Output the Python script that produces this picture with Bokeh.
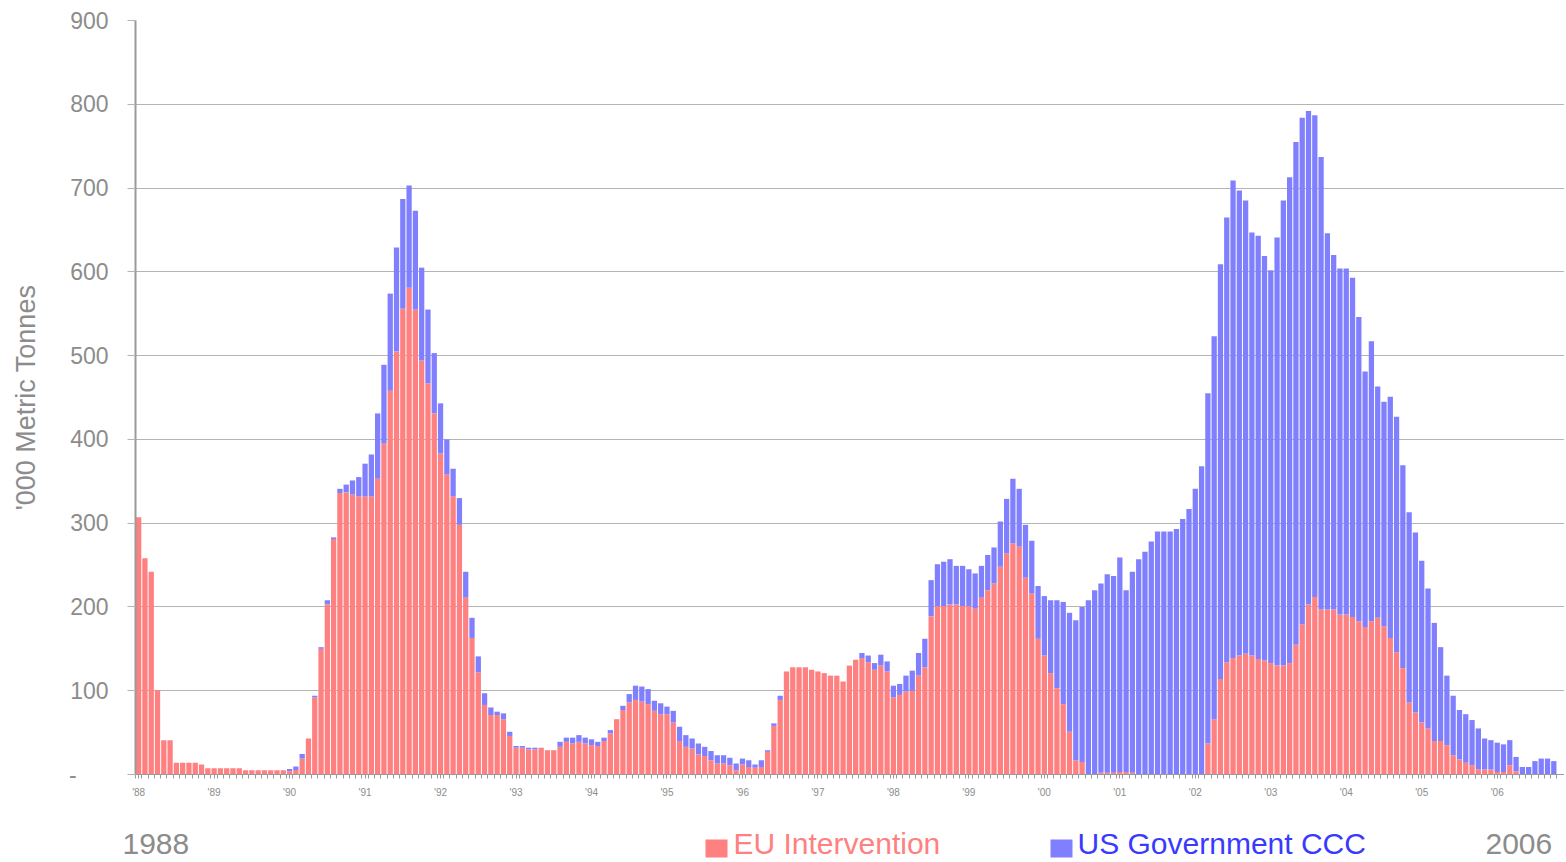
from bokeh.plotting import figure
from bokeh.layouts import column
from bokeh.models import ColumnDataSource, FixedTicker, Range1d
from bokeh.core.properties import value
from bokeh.embed import file_html
from bokeh.resources import INLINE

# ---------------- data (monthly, Jan 1988 .. Oct 2006), '000 metric tonnes ----------------
year_labels = ["'88", "'89", "'90", "'91", "'92", "'93", "'94", "'95", "'96", "'97",
               "'98", "'99", "'00", "'01", "'02", "'03", "'04", "'05", "'06"]

eu_intervention = [
    307, 258, 242, 101, 41, 41, 14, 14, 14, 14, 12, 7.5,            # 1988
    7.5, 7.5, 7.5, 7.5, 7.5, 5, 5, 5, 5, 5, 5, 5,                   # 1989
    4, 5.5, 19, 43, 92, 150, 203, 281, 336, 337, 334, 332,          # 1990
    332, 332, 353, 395, 458, 505, 556, 581, 555, 494, 467, 431,     # 1991
    383, 358, 332, 298, 211, 163, 122, 83, 71, 71, 66, 46,          # 1992
    32, 32, 30, 30, 32, 29, 29, 33, 39, 37, 39, 37,                 # 1993
    35, 34, 40, 49, 66, 77, 86, 89, 87, 84, 76, 72,                 # 1994
    72, 62, 40, 33, 31, 24, 22, 17, 13, 13, 11, 5,                  # 1995
    12, 9, 8, 9, 27, 58, 89, 123, 128, 128, 128, 125,               # 1996
    123, 121, 118, 118, 111, 130, 137, 139, 134, 125, 130, 123,     # 1997
    92, 95, 99, 100, 118, 128, 189, 201, 201, 203, 203, 201,        # 1998
    201, 198, 211, 220, 228, 248, 264, 276, 272, 235, 216, 162,     # 1999
    142, 121, 103, 84, 51, 17, 15, 0, 0, 2, 2, 2,                   # 2000
    3, 3, 2, 0, 0, 0, 0, 0, 0, 0, 0, 0,                             # 2001
    0, 0, 37, 66, 114, 134, 139, 142, 144, 142, 138, 136,           # 2002
    133, 130, 130, 133, 155, 179, 203, 212, 197, 197, 197, 191,     # 2003
    191, 188, 183, 176, 183, 187, 177, 163, 146, 127, 86, 74,       # 2004
    62, 55, 40, 40, 35, 23, 18, 14, 11, 6, 6, 6,                    # 2005
    3, 3, 11, 4, 0, 0, 0, 0, 0, 0,                                  # 2006
]

us_government_ccc = [
    0, 0, 0, 0, 0, 0, 0, 0, 0, 0, 0, 0,                             # 1988
    0, 0, 0, 0, 0, 0, 0, 0, 0, 0, 0, 0,                             # 1989
    2.5, 4, 5.5, 0, 2, 2, 5, 2, 5, 9, 17, 23,                       # 1990
    39, 50, 78, 94, 116, 124, 131, 122, 118, 111, 88, 72,           # 1991
    60, 42, 33, 32, 31, 24, 19, 14, 9, 4, 7, 5,                     # 1992
    2, 2, 2, 2, 0, 0, 0, 6, 5, 7, 8, 7,                             # 1993
    7, 5, 4, 4, 0, 5, 10, 17, 18, 18, 12, 13,                       # 1994
    9, 14, 17, 14, 12, 13, 11, 11, 10, 10, 9, 8,                    # 1995
    7, 8, 4, 8, 2, 3, 5, 0, 0, 0, 0, 0,                             # 1996
    0, 0, 0, 0, 0, 0, 0, 6, 8, 8, 13, 12,                           # 1997
    14, 13, 19, 24, 27, 34, 43, 50, 53, 54, 46, 48,                 # 1998
    44, 42, 38, 42, 43, 54, 65, 77, 69, 63, 63, 63,                 # 1999
    71, 87, 105, 122, 142, 167, 185, 208, 220, 226, 237, 235,       # 2000
    256, 217, 240, 257, 266, 278, 290, 290, 290, 293, 305, 317,     # 2001
    341, 368, 418, 457, 495, 531, 570, 555, 541, 505, 505, 483,     # 2002
    469, 511, 555, 580, 600, 605, 589, 575, 540, 449, 423, 413,     # 2003
    413, 405, 363, 305, 334, 276, 268, 288, 281, 242, 227, 215,     # 2004
    193, 167, 141, 112, 83, 71, 59, 58, 54, 49, 37, 35,             # 2005
    35, 33, 30, 17, 9, 9, 16, 19, 19, 16,                           # 2006
]

y_ticks = [0, 100, 200, 300, 400, 500, 600, 700, 800, 900]
series_names = ["EU Intervention", "US Government CCC"]
first_year_text = "1988"
last_year_text = "2006"

# ---------------- styling ----------------
FONT = "Liberation Sans"
GRAY = "#8c8c8c"
EU_COLOR = "#ff8080"
US_COLOR = "#8080ff"
US_TEXT = "#3a3aff"
W = 1564

n = len(eu_intervention)
month_index = list(range(n))
src = ColumnDataSource(dict(x=month_index, eu=eu_intervention, us=us_government_ccc))

p = figure(width=W, height=800, output_backend="svg", toolbar_location=None,
           x_range=Range1d(-0.5, 226.7), y_range=Range1d(0, 900),
           min_border_left=135, min_border_right=0, min_border_top=20, min_border_bottom=26)
p.frame_align = False
p.outline_line_color = None
p.background_fill_color = "white"
p.border_fill_color = "white"

p.vbar_stack(["eu", "us"], x="x", width=0.84, fill_color=[EU_COLOR, US_COLOR],
             line_color=None, source=src)

# grid
p.xgrid.visible = False
p.ygrid.grid_line_color = "#b4b4b4"
p.ygrid.grid_line_width = 1

# y axis
yax = p.yaxis[0]
yax.ticker = FixedTicker(ticks=y_ticks)
yax.major_label_overrides = {0: "-\u00a0\u00a0\u00a0\u00a0\u00a0"}
yax.axis_label = "'000 Metric Tonnes"
yax.axis_label_text_font = FONT
yax.axis_label_text_font_size = "27px"
yax.axis_label_text_font_style = "normal"
yax.axis_label_text_color = GRAY
yax.axis_label_standoff = 25
yax.major_label_text_font = FONT
yax.major_label_text_font_size = "23px"
yax.major_label_text_color = GRAY
yax.major_label_standoff = 19
yax.major_tick_out = 8
yax.major_tick_in = 0
yax.minor_tick_out = 0
yax.minor_tick_in = 0
yax.axis_line_color = "#9a9a9a"
yax.axis_line_width = 2
yax.major_tick_line_color = "#b4b4b4"

# x axis
xax = p.xaxis[0]
xax.ticker = FixedTicker(ticks=[12 * k for k in range(len(year_labels))],
                         minor_ticks=[m - 0.5 for m in range(n + 1)])
xax.major_label_overrides = {12 * k: lab for k, lab in enumerate(year_labels)}
xax.major_label_text_font = FONT
xax.major_label_text_font_size = "10px"
xax.major_label_text_color = GRAY
xax.major_label_standoff = 8
xax.major_tick_out = 4
xax.major_tick_in = 0
xax.minor_tick_out = 4
xax.minor_tick_in = 0
xax.axis_line_color = "#9a9a9a"
xax.axis_line_width = 1
xax.major_tick_line_color = "#9a9a9a"
xax.minor_tick_line_color = "#9a9a9a"

# ---------------- bottom strip: period labels and legend ----------------
H2 = 60
q = figure(width=W, height=H2, output_backend="svg", toolbar_location=None,
           x_range=Range1d(0, W), y_range=Range1d(0, H2),
           min_border_left=0, min_border_right=0, min_border_top=0, min_border_bottom=0)
q.frame_align = False
q.axis.visible = False
q.grid.visible = False
q.outline_line_color = None
q.border_fill_color = "white"
q.background_fill_color = "white"

q.text(x=[122, 1485], y=[17, 17], text=[first_year_text, last_year_text],
       text_font=value(FONT), text_font_size="30px", text_color=GRAY,
       text_baseline="middle", text_align="left")

# legend swatches and names
q.rect(x=[716, 1061], y=[12, 12], width=22, height=18,
       fill_color=[EU_COLOR, US_COLOR], line_color=None)
q.text(x=[733], y=[17], text=[series_names[0]], text_font=value(FONT), text_font_size="30px",
       text_color=EU_COLOR, text_baseline="middle", text_align="left")
q.text(x=[1077], y=[17], text=[series_names[1]], text_font=value(FONT), text_font_size="30px",
       text_color=US_TEXT, text_baseline="middle", text_align="left")

layout = column(p, q, spacing=0)
open("out.html", "w").write(file_html(layout, INLINE))
